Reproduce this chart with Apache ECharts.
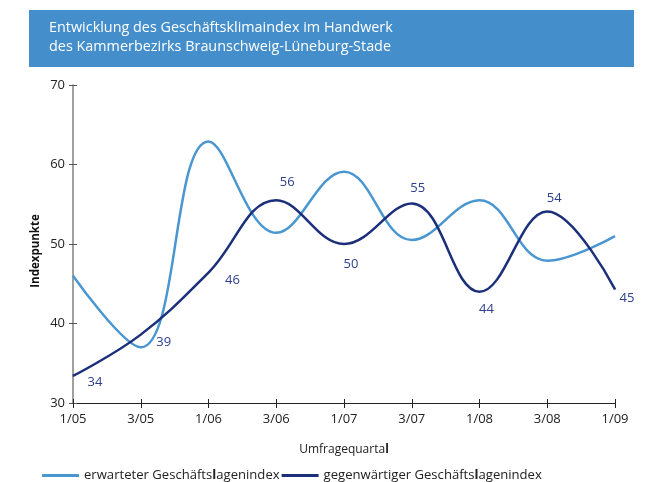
<!DOCTYPE html>
<html>
<head>
<meta charset="utf-8">
<script src="https://cdn.jsdelivr.net/npm/echarts@6/dist/echarts.min.js"></script>
<style>
  html, body { margin: 0; padding: 0; background: #ffffff; }
  #chart { width: 647px; height: 482px; }
</style>
</head>
<body>
<div id="chart"></div>
<script>
// quarters shown on the x axis
var quarters = ['1/05', '3/05', '1/06', '3/06', '1/07', '3/07', '1/08', '3/08', '1/09'];
// erwarteter Geschäftslagenindex
var expected = [46, 37, 62.9, 51.4, 59.1, 50.5, 55.5, 47.9, 51];
// gegenwärtiger Geschäftslagenindex
var current = [33.4, 38.6, 46.4, 55.5, 50, 55.1, 44, 54.1, 44.3];
// printed labels on the dark line
var currentLabels = [34, 39, 46, 56, 50, 55, 44, 54, 45];
var yTicks = [30, 40, 50, 60, 70];

var FONT = '"Open Sans", "Noto Sans", sans-serif';
var LIGHT = '#4a96d0';
var DARK = '#1b2f7a';

// where each printed number sits relative to its point
var labelOffsets = [
    [22, 6], [23, 8], [24, 8], [11, -18], [7, 20], [6, -15], [7, 18], [7, -13], [12, 9]
];

var myChart;
var option;

function buildCurrentData() {
    var out = [];
    for (var i = 0; i < current.length; i++) {
        out.push({
            value: current[i],
            label: {
                show: true,
                position: 'inside',
                offset: labelOffsets[i],
                formatter: String(currentLabels[i])
            }
        });
    }
    return out;
}

function legendText(name) {
    return name.replace('Geschäftslagenindex', 'Geschäfts{b|l}agenindex');
}

window.onload = function () {
    myChart = echarts.init(document.getElementById('chart'), null, { renderer: 'canvas' });

    option = {
        backgroundColor: '#ffffff',
        textStyle: { fontFamily: FONT },
        graphic: [
            {
                type: 'rect',
                left: 29, top: 10,
                shape: { width: 605, height: 57 },
                style: { fill: '#448ecb' }
            },
            {
                type: 'text',
                left: 49, top: 18,
                style: {
                    text: 'Entwicklung des Geschäftsklimaindex im Handwerk\ndes Kammerbezirks Braunschweig-Lüneburg-Stade',
                    fill: '#ffffff',
                    font: '14.4px ' + FONT,
                    lineHeight: 19
                }
            },
            {
                // y axis title, placed by hand like in the print
                type: 'text',
                x: 36, y: 251,
                rotation: Math.PI / 2,
                style: {
                    text: 'Indexpunkte',
                    fill: '#111',
                    font: 'bold 11.5px ' + FONT,
                    align: 'center',
                    verticalAlign: 'middle'
                }
            }
        ],
        grid: { left: 73, right: 32, top: 85, bottom: 79, containLabel: false },
        legend: {
            left: 37, top: 464,
            itemWidth: 37, itemHeight: 3, itemGap: 2,
            icon: 'rect',
            formatter: legendText,
            textStyle: {
                color: '#222', fontSize: 13.1, fontFamily: FONT,
                rich: { b: { fontWeight: 'bold', fontSize: 13.1, color: '#222' } }
            },
            data: ['erwarteter Geschäftslagenindex', 'gegenwärtiger Geschäftslagenindex']
        },
        xAxis: [
            {
                type: 'category',
                data: quarters,
                boundaryGap: false,
                name: 'Umfragequarta{b|l}',
                nameLocation: 'middle',
                nameGap: 41,
                nameTextStyle: {
                    color: '#222', fontSize: 12, fontFamily: FONT,
                    rich: { b: { fontWeight: 'bold', fontSize: 12, color: '#222' } }
                },
                axisLine: { lineStyle: { color: '#222', width: 1 } },
                axisTick: { show: true, length: 5, alignWithLabel: true, lineStyle: { color: '#222' } },
                axisLabel: { color: '#222', fontSize: 13, margin: 10, fontFamily: FONT },
                splitLine: { show: false }
            },
            {
                type: 'category',
                data: quarters,
                boundaryGap: false,
                position: 'bottom',
                axisLine: { show: false },
                axisTick: { show: true, inside: true, length: 4, lineStyle: { color: '#222' } },
                axisLabel: { show: false },
                splitLine: { show: false }
            }
        ],
        yAxis: [
            {
                type: 'value',
                min: yTicks[0],
                max: yTicks[yTicks.length - 1],
                interval: 10,
                axisLine: { show: true, lineStyle: { color: '#808080', width: 1.5 } },
                axisTick: { show: true, length: 4, lineStyle: { color: '#555' } },
                axisLabel: { color: '#222', fontSize: 13, margin: 8, fontFamily: FONT },
                splitLine: { show: false }
            },
            {
                type: 'value',
                min: yTicks[0],
                max: yTicks[yTicks.length - 1],
                interval: 10,
                position: 'left',
                axisLine: { show: false },
                axisTick: { show: true, inside: true, length: 4, lineStyle: { color: '#555' } },
                axisLabel: { show: false },
                splitLine: { show: false }
            }
        ],
        series: [
            {
                name: 'erwarteter Geschäftslagenindex',
                type: 'line',
                data: expected,
                smooth: 0.4,
                symbol: 'none',
                lineStyle: { color: LIGHT, width: 2.5 },
                itemStyle: { color: LIGHT },
                z: 2
            },
            {
                name: 'gegenwärtiger Geschäftslagenindex',
                type: 'line',
                data: buildCurrentData(),
                smooth: 0.4,
                symbol: 'circle',
                symbolSize: 1,
                showSymbol: true,
                lineStyle: { color: DARK, width: 2.5 },
                itemStyle: { color: DARK },
                label: { show: true, color: '#2b3f8c', fontSize: 13, fontFamily: FONT },
                z: 3
            }
        ],
        animation: false
    };

    option && myChart.setOption(option);
};

window.onresize = function () {
    myChart.resize();
};
</script>
</body>
</html>
